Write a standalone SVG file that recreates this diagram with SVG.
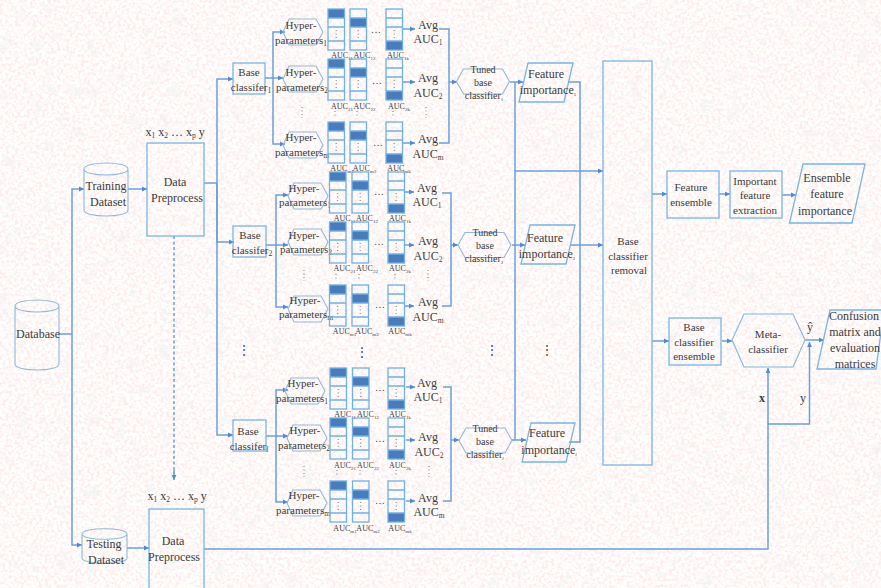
<svg xmlns="http://www.w3.org/2000/svg" width="881" height="588" viewBox="0 0 881 588">
<style>
text{font-family:"Liberation Serif","Times New Roman",serif;font-size:11px;fill:#3a3a3a;text-anchor:middle}
.f12{font-size:12px}.f10{font-size:10px}.auc{font-size:8px}
.sub{font-size:7.5px;baseline-shift:-2px}.asub{font-size:5px;baseline-shift:-1.5px}
.shape{fill:none;stroke:#78b4e6;stroke-width:1.3}
.thin{fill:none;stroke:#8fb8dc;stroke-width:1.1}
.cell{fill:none;stroke:#6fb0e6;stroke-width:1.3}
.bar{fill:#4a7bbb;stroke:none}
.dots{stroke:#777;stroke-width:1;stroke-dasharray:1 2.5;fill:none}
.link{fill:none;stroke:#6b9fdc;stroke-width:1.5}
.arr{marker-end:url(#ah)}
</style>
<defs>
<marker id="ah" markerUnits="userSpaceOnUse" markerWidth="6" markerHeight="6" refX="5" refY="3" orient="auto"><path d="M0 .6L5 3L0 5.4z" fill="#4f8ad2"/></marker>
<filter id="pinkNoise" x="0" y="0" width="100%" height="100%"><feTurbulence type="fractalNoise" baseFrequency="0.33" numOctaves="2" seed="7"/><feColorMatrix values="0 0 0 0 .99 0 0 0 0 .84 0 0 0 0 .83 4 0 0 0 -1.72"/></filter>
<filter id="grayNoise" x="0" y="0" width="100%" height="100%"><feTurbulence type="fractalNoise" baseFrequency="0.07" numOctaves="3" seed="12"/><feColorMatrix values="0 0 0 0 .88 0 0 0 0 .88 0 0 0 0 .88 0 4.5 0 0 -2.55"/></filter>
<g id="stackTop"><rect class="bar" width="16.5" height="9"/><rect class="cell" width="16.5" height="41"/><path class="cell" d="M0 9H16.5M0 18H16.5M0 32H16.5"/><path class="dots" d="M8.2 21V30"/></g>
<g id="stackMid"><rect class="bar" y="9" width="16.5" height="9"/><rect class="cell" width="16.5" height="41"/><path class="cell" d="M0 9H16.5M0 18H16.5M0 32H16.5"/><path class="dots" d="M8.2 21V30"/></g>
<g id="stackBot"><rect class="bar" y="32" width="16.5" height="9"/><rect class="cell" width="16.5" height="41"/><path class="cell" d="M0 9H16.5M0 18H16.5M0 32H16.5"/><path class="dots" d="M8.2 21V30"/></g>
<path id="hyperShape" d="M6 0H33L40 13L33 26H6L0 13z"/>
<path id="tunedShape" d="M7 0H46L53 12.5L46 25H7L0 12.5z"/>
</defs>

<g id="background"><rect width="881" height="588" fill="#fff"/><rect width="881" height="588" filter="url(#pinkNoise)"/><rect width="881" height="588" filter="url(#grayNoise)" opacity=".55"/></g>

<g id="connectors">
<path class="link" d="M59 334H72"/>
<path class="link arr" d="M72 334V189H84"/>
<path class="link arr" d="M72 334V545H82"/>
<path class="link arr" d="M128 189H147"/>
<path class="link arr" d="M127 548H149"/>
<path class="link" stroke-dasharray="3 2.5" d="M174 236V474"/>
<path class="link arr" d="M174 470V480"/>
<path class="link" d="M204 183H217"/>
<path class="link arr" d="M217 183V79H233"/>
<path class="link arr" d="M217 183V242H234"/>
<path class="link arr" d="M217 183V435H233"/>
<path class="link arr" d="M265 78H283"/>
<path class="link arr" d="M273 78V32H285"/>
<path class="link arr" d="M273 78V144H285"/>
<path class="link arr" d="M403 29H415"/><path class="link arr" d="M403 82H415"/><path class="link arr" d="M403 143H415"/>
<path class="link" d="M439 29H449V143H439"/>
<path class="link arr" d="M449 82H457"/>
<path class="link arr" d="M510 82H523"/>
<path class="link arr" d="M266 245H288"/>
<path class="link arr" d="M276 245V195H288"/>
<path class="link arr" d="M276 245V307H288"/>
<path class="link arr" d="M405 192H414"/><path class="link arr" d="M405 245H414"/><path class="link arr" d="M405 306H414"/>
<path class="link" d="M442 193H451V306H442"/>
<path class="link arr" d="M451 245H458"/>
<path class="link arr" d="M512 245H525"/>
<path class="link arr" d="M266 436H288"/>
<path class="link arr" d="M276 436V390H288"/>
<path class="link arr" d="M276 436V502H288"/>
<path class="link arr" d="M406 387H415"/><path class="link arr" d="M406 440H415"/><path class="link arr" d="M406 501H415"/>
<path class="link" d="M443 387H451V501H443"/>
<path class="link arr" d="M451 440H459"/>
<path class="link arr" d="M512 440H526"/>
<path class="link" d="M515 82V440"/>
<path class="link" d="M568 82H580V442H569"/>
<path class="link arr" d="M515 171H603"/>
<path class="link arr" d="M570 245H603"/>
<path class="link arr" d="M652 194H667"/>
<path class="link arr" d="M719 194H730"/>
<path class="link arr" d="M782 195H796"/>
<path class="link arr" d="M652 341H669"/>
<path class="link arr" d="M722 341H732"/>
<path class="link arr" d="M805 340H824"/>
<path class="link arr" d="M204 549H768V368"/>
<path class="link arr" d="M768 424H809.500V342"/>
</g>

<g id="database"><path class="thin" d="M15 306C15 298 59 298 59 306V364C59 372 15 372 15 364zM15 306C15 314 59 314 59 306"/><text class="f12" x="38" y="338">Database</text></g>
<g id="training-dataset"><path class="thin" d="M84 169C84 161 128 161 128 169V210C128 218 84 218 84 210zM84 169C84 177 128 177 128 169"/><text class="f12" x="106" y="190">Training</text><text class="f12" x="108" y="206">Dataset</text></g>
<g id="testing-dataset"><path class="thin" d="M82 534C82 527 127 527 127 534V558C127 565 82 565 82 558zM82 534C82 541 127 541 127 534"/><text class="f12" x="104" y="548">Testing</text><text class="f12" x="106" y="564">Dataset</text></g>
<g id="preprocess-train"><text class="f12" x="175" y="136">x<tspan class="sub">1</tspan> x<tspan class="sub">2</tspan> … x<tspan class="sub">p</tspan> y</text><rect class="shape" x="147" y="143" width="57" height="93"/><text class="f12" x="175" y="186">Data</text><text class="f12" x="177" y="202">Preprocess</text></g>
<g id="preprocess-test"><text class="f12" x="177" y="500">x<tspan class="sub">1</tspan> x<tspan class="sub">2</tspan> … x<tspan class="sub">p</tspan> y</text><rect class="shape" x="149" y="509" width="55" height="90"/><text class="f12" x="173" y="545">Data</text><text class="f12" x="174" y="561">Preprocess</text></g>

<g id="base-1"><rect class="shape" x="233" y="63" width="32" height="31"/><text x="249" y="76">Base</text><text x="251" y="91">classifer<tspan class="sub">1</tspan></text></g>
<g id="hyper-1-1"><use href="#hyperShape" class="thin" x="283" y="19"/><text x="301" y="29">Hyper-</text><text x="301" y="44">parameters<tspan class="sub">1</tspan></text></g>
<g id="hyper-1-2"><use href="#hyperShape" class="thin" x="283" y="66"/><text x="301" y="76">Hyper-</text><text x="302" y="91">parameters<tspan class="sub">2</tspan></text></g>
<g id="hyper-1-3"><use href="#hyperShape" class="thin" x="283" y="132"/><text x="301" y="141">Hyper-</text><text x="302" y="156">parameters<tspan class="sub">m</tspan></text></g>
<g id="stacks-1-1"><use href="#stackTop" x="328" y="9"/><use href="#stackMid" x="350" y="9"/><use href="#stackBot" x="386" y="9"/><text class="f10" x="376" y="33">…</text><text class="auc" x="342" y="58">AUC<tspan class="asub">11</tspan></text><text class="auc" x="364.500" y="58">AUC<tspan class="asub">12</tspan></text><text class="auc" x="398" y="58">AUC<tspan class="asub">1k</tspan></text></g>
<g id="stacks-1-2"><use href="#stackTop" x="328" y="59"/><use href="#stackMid" x="350" y="59"/><use href="#stackBot" x="386" y="59"/><text class="f10" x="377" y="84">…</text><text class="auc" x="342" y="109">AUC<tspan class="asub">21</tspan></text><text class="auc" x="364.500" y="109">AUC<tspan class="asub">22</tspan></text><text class="auc" x="399" y="109">AUC<tspan class="asub">2k</tspan></text></g>
<g id="stacks-1-3"><use href="#stackTop" x="328" y="122"/><use href="#stackMid" x="350" y="122"/><use href="#stackBot" x="386" y="122"/><text class="f10" x="378" y="146">…</text><text class="auc" x="342" y="171">AUC<tspan class="asub">m1</tspan></text><text class="auc" x="364.500" y="171">AUC<tspan class="asub">m2</tspan></text><text class="auc" x="399" y="171">AUC<tspan class="asub">mk</tspan></text></g>
<g id="avg-1-1"><text class="f12" x="428" y="29">Avg</text><text class="f12" x="428" y="43">AUC<tspan class="sub">1</tspan></text></g>
<g id="avg-1-2"><text class="f12" x="428" y="82">Avg</text><text class="f12" x="428" y="97">AUC<tspan class="sub">2</tspan></text></g>
<g id="avg-1-3"><text class="f12" x="428" y="143">Avg</text><text class="f12" x="428" y="158">AUC<tspan class="sub">m</tspan></text></g>
<g id="dots-1"><path class="dots" d="M302 107V118M335 111V118M357 111V118M393 111V118M426 107V118"/></g>
<g id="tuned-1"><use href="#tunedShape" class="thin" x="456.500" y="69"/><text class="f10" x="483" y="73">Tuned</text><text class="f10" x="483" y="86">base</text><text class="f10" x="484" y="99">classifier<tspan class="asub">1</tspan></text></g>
<g id="feature-1"><path class="shape" d="M528 63H573L564 102H519z"/><text class="f12" x="546" y="78">Feature</text><text class="f12" x="548" y="94">importance<tspan class="asub">1</tspan></text></g>

<g id="base-2"><rect class="shape" x="233" y="226" width="33" height="31"/><text x="250" y="239">Base</text><text x="252" y="254">classifer<tspan class="sub">2</tspan></text></g>
<g id="hyper-2-1"><use href="#hyperShape" class="thin" x="288" y="183"/><text x="304" y="192">Hyper-</text><text x="305" y="206">parameters<tspan class="sub">1</tspan></text></g>
<g id="hyper-2-2"><use href="#hyperShape" class="thin" x="288" y="229"/><text x="304" y="239">Hyper-</text><text x="306" y="253">parameters<tspan class="sub">2</tspan></text></g>
<g id="hyper-2-3"><use href="#hyperShape" class="thin" x="288" y="296"/><text x="305" y="304">Hyper-</text><text x="306" y="318">parameters<tspan class="sub">m</tspan></text></g>
<g id="stacks-2-1"><use href="#stackTop" x="329.500" y="172"/><use href="#stackMid" x="352" y="172"/><use href="#stackBot" x="388" y="172"/><text class="f10" x="379" y="195">…</text><text class="auc" x="344.500" y="221">AUC<tspan class="asub">11</tspan></text><text class="auc" x="367" y="221">AUC<tspan class="asub">12</tspan></text><text class="auc" x="400" y="221">AUC<tspan class="asub">1k</tspan></text></g>
<g id="stacks-2-2"><use href="#stackTop" x="329.500" y="222"/><use href="#stackMid" x="352" y="222"/><use href="#stackBot" x="388" y="222"/><text class="f10" x="379" y="245">…</text><text class="auc" x="344.500" y="271">AUC<tspan class="asub">21</tspan></text><text class="auc" x="367" y="271">AUC<tspan class="asub">22</tspan></text><text class="auc" x="400" y="271">AUC<tspan class="asub">2k</tspan></text></g>
<g id="stacks-2-3"><use href="#stackTop" x="329.500" y="285"/><use href="#stackMid" x="352" y="285"/><use href="#stackBot" x="388" y="285"/><text class="f10" x="380" y="308">…</text><text class="auc" x="344.500" y="334">AUC<tspan class="asub">m1</tspan></text><text class="auc" x="367" y="334">AUC<tspan class="asub">m2</tspan></text><text class="auc" x="400" y="334">AUC<tspan class="asub">mk</tspan></text></g>
<g id="avg-2-1"><text class="f12" x="427" y="192">Avg</text><text class="f12" x="427" y="206">AUC<tspan class="sub">1</tspan></text></g>
<g id="avg-2-2"><text class="f12" x="428" y="245">Avg</text><text class="f12" x="428" y="260">AUC<tspan class="sub">2</tspan></text></g>
<g id="avg-2-3"><text class="f12" x="428" y="306">Avg</text><text class="f12" x="428" y="321">AUC<tspan class="sub">m</tspan></text></g>
<g id="dots-2"><path class="dots" d="M304 270V281M336 274V281M359 274V281M395 274V281M428 270V281"/></g>
<g id="tuned-2"><use href="#tunedShape" class="thin" x="458" y="232.500"/><text class="f10" x="485" y="236">Tuned</text><text class="f10" x="485" y="249">base</text><text class="f10" x="484" y="262">classifier<tspan class="asub">2</tspan></text></g>
<g id="feature-2"><path class="shape" d="M530 225H575L566 264H521z"/><text class="f12" x="545" y="242">Feature</text><text class="f12" x="547" y="258">importance<tspan class="asub">2</tspan></text></g>

<g id="base-l"><rect class="shape" x="233" y="420" width="33" height="31"/><text x="248" y="435">Base</text><text x="249" y="450">classifer<tspan class="sub" font-style="italic">l</tspan></text></g>
<g id="hyper-3-1"><use href="#hyperShape" class="thin" x="285" y="378"/><text x="303" y="387">Hyper-</text><text x="302" y="402">parameters<tspan class="sub">1</tspan></text></g>
<g id="hyper-3-2"><use href="#hyperShape" class="thin" x="287" y="425"/><text x="305" y="434">Hyper-</text><text x="304" y="449">parameters<tspan class="sub">2</tspan></text></g>
<g id="hyper-3-3"><use href="#hyperShape" class="thin" x="287" y="490"/><text x="304" y="499">Hyper-</text><text x="303" y="514">parameters<tspan class="sub">m</tspan></text></g>
<g id="stacks-3-1"><use href="#stackTop" x="330" y="368"/><use href="#stackMid" x="352.500" y="368"/><use href="#stackBot" x="388" y="368"/><text class="f10" x="380" y="391">…</text><text class="auc" x="345" y="417">AUC<tspan class="asub">11</tspan></text><text class="auc" x="368" y="417">AUC<tspan class="asub">12</tspan></text><text class="auc" x="400" y="417">AUC<tspan class="asub">1k</tspan></text></g>
<g id="stacks-3-2"><use href="#stackTop" x="330" y="418"/><use href="#stackMid" x="352.500" y="418"/><use href="#stackBot" x="388" y="418"/><text class="f10" x="380" y="442">…</text><text class="auc" x="345" y="468">AUC<tspan class="asub">21</tspan></text><text class="auc" x="368" y="468">AUC<tspan class="asub">22</tspan></text><text class="auc" x="400" y="468">AUC<tspan class="asub">2k</tspan></text></g>
<g id="stacks-3-3"><use href="#stackTop" x="330" y="481"/><use href="#stackMid" x="352.500" y="481"/><use href="#stackBot" x="388" y="481"/><text class="f10" x="380" y="504">…</text><text class="auc" x="345" y="531">AUC<tspan class="asub">m1</tspan></text><text class="auc" x="368" y="531">AUC<tspan class="asub">m2</tspan></text><text class="auc" x="400" y="531">AUC<tspan class="asub">mk</tspan></text></g>
<g id="avg-3-1"><text class="f12" x="427" y="387">Avg</text><text class="f12" x="428" y="401">AUC<tspan class="sub">1</tspan></text></g>
<g id="avg-3-2"><text class="f12" x="428" y="441">Avg</text><text class="f12" x="429" y="456">AUC<tspan class="sub">2</tspan></text></g>
<g id="avg-3-3"><text class="f12" x="428" y="502">Avg</text><text class="f12" x="429" y="516">AUC<tspan class="sub">m</tspan></text></g>
<g id="dots-3"><path class="dots" d="M304 466V477M337 470V477M360 470V477M396 470V477M429 466V477"/></g>
<g id="tuned-l"><use href="#tunedShape" class="thin" x="459" y="428"/><text class="f10" x="485" y="432">Tuned</text><text class="f10" x="485" y="445">base</text><text class="f10" x="485" y="458">classifier<tspan class="asub" font-style="italic">l</tspan></text></g>
<g id="feature-l"><path class="shape" d="M531 423H575L566 462H522z"/><text class="f12" x="547" y="437">Feature</text><text class="f12" x="549" y="454">importance<tspan class="asub" font-style="italic">l</tspan></text></g>

<g id="vdots"><text class="f12" x="244" y="354">⋮</text><text class="f12" x="362" y="356">⋮</text><text class="f12" x="492" y="354">⋮</text><text class="f12" x="547" y="354">⋮</text></g>

<g id="removal"><rect class="shape" x="603" y="61" width="49" height="404"/><text x="628" y="245">Base</text><text x="628" y="260">classifier</text><text x="629" y="274">removal</text></g>
<g id="feature-ensemble"><rect class="shape" x="667" y="171" width="52" height="47"/><text x="691" y="191">Feature</text><text x="691" y="206">ensemble</text></g>
<g id="important-extraction"><rect class="shape" x="730" y="171" width="52" height="47"/><text x="755" y="185">Important</text><text x="755" y="199">feature</text><text x="755" y="214">extraction</text></g>
<g id="ensemble-importance"><path class="shape" d="M803 164H865L852 223H789.500z"/><text class="f12" x="827" y="182">Ensemble</text><text class="f12" x="827" y="198">feature</text><text class="f12" x="825" y="215">importance</text></g>
<g id="base-ensemble"><rect class="shape" x="669" y="318" width="52" height="47"/><text x="694" y="331">Base</text><text x="694" y="346">classifier</text><text x="694" y="360">ensemble</text></g>
<g id="meta"><path class="thin" d="M744 314H793L805 340L793 367H744L732 340z" style="stroke:#7fb6e0"/><text x="768" y="338">Meta-</text><text x="768" y="353">classifier</text></g>
<g id="evaluation"><path class="shape" d="M830 310H884L876 369H817z"/><text class="f12" x="854" y="320">Confusion</text><text class="f12" x="855" y="336">matrix and</text><text class="f12" x="855" y="352">evaluation</text><text class="f12" x="855" y="368">matrices</text></g>
<g id="edge-labels"><text class="f12" x="810" y="331">ŷ</text><text class="f12" x="762" y="402" font-weight="bold">x</text><text class="f12" x="803" y="402">y</text></g>
</svg>
